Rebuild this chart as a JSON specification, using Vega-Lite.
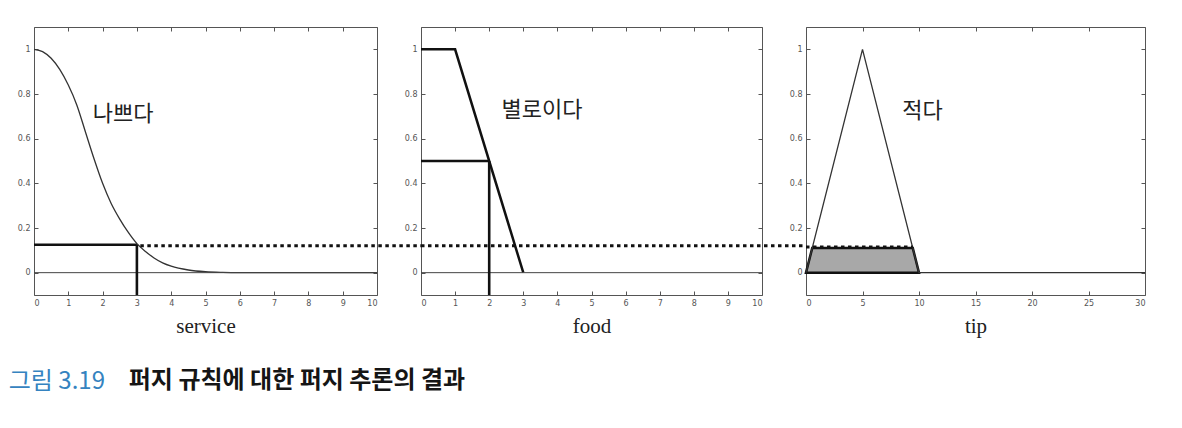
{
  "$schema": "https://vega.github.io/schema/vega-lite/v6.json",
  "background": "white",
  "padding": {"left": 8, "top": 26, "right": 0, "bottom": 0},
  "datasets": {
    "svc": [
      {"x": 0, "m": 1}, {"x": 0.25, "m": 0.99}, {"x": 0.5, "m": 0.96}, {"x": 0.75, "m": 0.91},
      {"x": 1, "m": 0.84}, {"x": 1.25, "m": 0.75}, {"x": 1.5, "m": 0.63}, {"x": 1.75, "m": 0.51},
      {"x": 2, "m": 0.4}, {"x": 2.25, "m": 0.31}, {"x": 2.5, "m": 0.24}, {"x": 2.75, "m": 0.18},
      {"x": 3, "m": 0.13}, {"x": 3.25, "m": 0.095}, {"x": 3.5, "m": 0.066}, {"x": 3.75, "m": 0.044},
      {"x": 4, "m": 0.029}, {"x": 4.5, "m": 0.012}, {"x": 5, "m": 0.004}, {"x": 5.5, "m": 0.001},
      {"x": 6, "m": 0}, {"x": 10, "m": 0}
    ],
    "food": [{"x": 0, "m": 1}, {"x": 1, "m": 1}, {"x": 3, "m": 0}],
    "tip": [{"x": 0, "m": 0}, {"x": 5, "m": 1}, {"x": 10, "m": 0}, {"x": 30, "m": 0}],
    "tipcut": [{"x": 0, "m": 0}, {"x": 0.55, "m": 0.11}, {"x": 9.45, "m": 0.11}, {"x": 10, "m": 0}]
  },
  "config": {
    "view": {"stroke": "#555", "strokeWidth": 1},
    "axis": {
      "grid": false, "domain": false, "tickSize": -4, "tickColor": "#555", "tickWidth": 1,
      "labelFont": "DejaVu Sans", "labelFontSize": 8, "labelColor": "#555", "labelPadding": 8,
      "titleFont": "Liberation Serif", "titleFontSize": 21, "titleFontWeight": "normal", "titleColor": "#222", "titlePadding": 8
    }
  },
  "title": {
    "text": "그림 3.19", "orient": "bottom", "anchor": "start", "font": "Noto Sans CJK KR",
    "fontSize": 24, "fontWeight": "normal", "color": "#3583c0", "offset": 0, "dy": -23, "dx": -8
  },
  "vconcat": [
    {
      "title": {
        "text": "퍼지 규칙에 대한 퍼지 추론의 결과", "orient": "bottom", "anchor": "start", "font": "Noto Sans CJK KR",
        "fontSize": 24, "fontWeight": "bold", "color": "#151515", "offset": 32, "dx": 112
      },
      "spacing": 44,
      "bounds": "flush",
      "hconcat": [
        {
          "width": 343, "height": 268,
          "resolve": {"axis": {"x": "independent", "y": "independent"}},
          "layer": [
            {
              "data": {"name": "svc"},
              "mark": {"type": "line", "color": "#333", "strokeWidth": 1.3, "interpolate": "monotone"},
              "encoding": {
                "x": {"field": "x", "type": "quantitative", "scale": {"domain": [0, 10], "nice": false},
                      "axis": {"orient": "bottom", "values": [0,1,2,3,4,5,6,7,8,9,10], "title": "service"}},
                "y": {"field": "m", "type": "quantitative", "scale": {"domain": [-0.1, 1.1], "nice": false, "zero": false},
                      "axis": {"orient": "left", "values": [0,0.2,0.4,0.6,0.8,1], "format": "~g", "title": null}}
              }
            },
            {
              "data": {"values": [{"x": 0, "x2": 10, "y": 0}]},
              "mark": {"type": "rule", "color": "#444", "strokeWidth": 1},
              "encoding": {
                "x": {"field": "x", "type": "quantitative", "axis": {"orient": "top", "values": [0,1,2,3,4,5,6,7,8,9,10], "labels": false, "title": null}},
                "x2": {"field": "x2"},
                "y": {"field": "y", "type": "quantitative", "axis": {"orient": "right", "values": [0,0.2,0.4,0.6,0.8,1], "labels": false, "title": null}}
              }
            },
            {
              "data": {"values": [{"x": 0, "x2": 3, "y": 0.125}, {"x": 3, "x2": 3, "y": -0.1, "y2": 0.125}]},
              "mark": {"type": "rule", "color": "#111", "strokeWidth": 2.6},
              "encoding": {
                "x": {"field": "x", "type": "quantitative", "axis": null},
                "x2": {"field": "x2"},
                "y": {"field": "y", "type": "quantitative", "axis": null},
                "y2": {"field": "y2"}
              }
            },
            {
              "data": {"values": [{"x": 3.1, "x2": 11.3, "y": 0.12}]},
              "mark": {"type": "rule", "color": "#111", "strokeWidth": 3, "strokeDash": [3.5, 3.5]},
              "encoding": {
                "x": {"field": "x", "type": "quantitative", "axis": null},
                "x2": {"field": "x2"},
                "y": {"field": "y", "type": "quantitative", "axis": null}
              }
            },
            {
              "data": {"values": [{"x": 2.6, "y": 0.71, "label": "나쁘다"}]},
              "mark": {"type": "text", "font": "Noto Sans CJK KR", "fontSize": 22, "color": "#222"},
              "encoding": {
                "x": {"field": "x", "type": "quantitative", "axis": null},
                "y": {"field": "y", "type": "quantitative", "axis": null},
                "text": {"field": "label"}
              }
            }
          ]
        },
        {
          "width": 341, "height": 268,
          "resolve": {"axis": {"x": "independent", "y": "independent"}},
          "layer": [
            {
              "data": {"name": "food"},
              "mark": {"type": "line", "color": "#111", "strokeWidth": 2.5},
              "encoding": {
                "x": {"field": "x", "type": "quantitative", "scale": {"domain": [0, 10], "nice": false},
                      "axis": {"orient": "bottom", "values": [0,1,2,3,4,5,6,7,8,9,10], "title": "food"}},
                "y": {"field": "m", "type": "quantitative", "scale": {"domain": [-0.1, 1.1], "nice": false, "zero": false},
                      "axis": {"orient": "left", "values": [0,0.2,0.4,0.6,0.8,1], "format": "~g", "title": null}}
              }
            },
            {
              "data": {"values": [{"x": 0, "x2": 10, "y": 0}]},
              "mark": {"type": "rule", "color": "#444", "strokeWidth": 1},
              "encoding": {
                "x": {"field": "x", "type": "quantitative", "axis": {"orient": "top", "values": [0,1,2,3,4,5,6,7,8,9,10], "labels": false, "title": null}},
                "x2": {"field": "x2"},
                "y": {"field": "y", "type": "quantitative", "axis": {"orient": "right", "values": [0,0.2,0.4,0.6,0.8,1], "labels": false, "title": null}}
              }
            },
            {
              "data": {"values": [{"x": 0, "x2": 2, "y": 0.5}, {"x": 2, "x2": 2, "y": -0.1, "y2": 0.5}]},
              "mark": {"type": "rule", "color": "#111", "strokeWidth": 2.6},
              "encoding": {
                "x": {"field": "x", "type": "quantitative", "axis": null},
                "x2": {"field": "x2"},
                "y": {"field": "y", "type": "quantitative", "axis": null},
                "y2": {"field": "y2"}
              }
            },
            {
              "data": {"values": [{"x": 0, "x2": 11.3, "y": 0.12}]},
              "mark": {"type": "rule", "color": "#111", "strokeWidth": 3, "strokeDash": [3.5, 3.5]},
              "encoding": {
                "x": {"field": "x", "type": "quantitative", "axis": null},
                "x2": {"field": "x2"},
                "y": {"field": "y", "type": "quantitative", "axis": null}
              }
            },
            {
              "data": {"values": [{"x": 3.55, "y": 0.73, "label": "별로이다"}]},
              "mark": {"type": "text", "font": "Noto Sans CJK KR", "fontSize": 22, "color": "#222"},
              "encoding": {
                "x": {"field": "x", "type": "quantitative", "axis": null},
                "y": {"field": "y", "type": "quantitative", "axis": null},
                "text": {"field": "label"}
              }
            }
          ]
        },
        {
          "width": 339, "height": 268,
          "resolve": {"axis": {"x": "independent", "y": "independent"}},
          "layer": [
            {
              "data": {"name": "tipcut"},
              "mark": {"type": "area", "color": "#a8a8a8", "stroke": "#111", "strokeWidth": 2.5, "strokeJoin": "miter"},
              "encoding": {
                "x": {"field": "x", "type": "quantitative", "scale": {"domain": [0, 30], "nice": false},
                      "axis": {"orient": "bottom", "values": [0,5,10,15,20,25,30], "title": "tip"}},
                "y": {"field": "m", "type": "quantitative", "scale": {"domain": [-0.1, 1.1], "nice": false, "zero": false},
                      "axis": {"orient": "left", "values": [0,0.2,0.4,0.6,0.8,1], "format": "~g", "title": null}}
              }
            },
            {
              "data": {"name": "tip"},
              "mark": {"type": "line", "color": "#333", "strokeWidth": 1.3},
              "encoding": {
                "x": {"field": "x", "type": "quantitative", "axis": {"orient": "top", "values": [0,5,10,15,20,25,30], "labels": false, "title": null}},
                "y": {"field": "m", "type": "quantitative", "axis": {"orient": "right", "values": [0,0.2,0.4,0.6,0.8,1], "labels": false, "title": null}}
              }
            },
            {
              "data": {"values": [{"x": 0, "x2": 9.45, "y": 0.115}]},
              "mark": {"type": "rule", "color": "#111", "strokeWidth": 3, "strokeDash": [3.5, 3.5]},
              "encoding": {
                "x": {"field": "x", "type": "quantitative", "axis": null},
                "x2": {"field": "x2"},
                "y": {"field": "y", "type": "quantitative", "axis": null}
              }
            },
            {
              "data": {"values": [{"x": 10.3, "y": 0.725, "label": "적다"}]},
              "mark": {"type": "text", "font": "Noto Sans CJK KR", "fontSize": 22, "color": "#222"},
              "encoding": {
                "x": {"field": "x", "type": "quantitative", "axis": null},
                "y": {"field": "y", "type": "quantitative", "axis": null},
                "text": {"field": "label"}
              }
            }
          ]
        }
      ]
    }
  ]
}
